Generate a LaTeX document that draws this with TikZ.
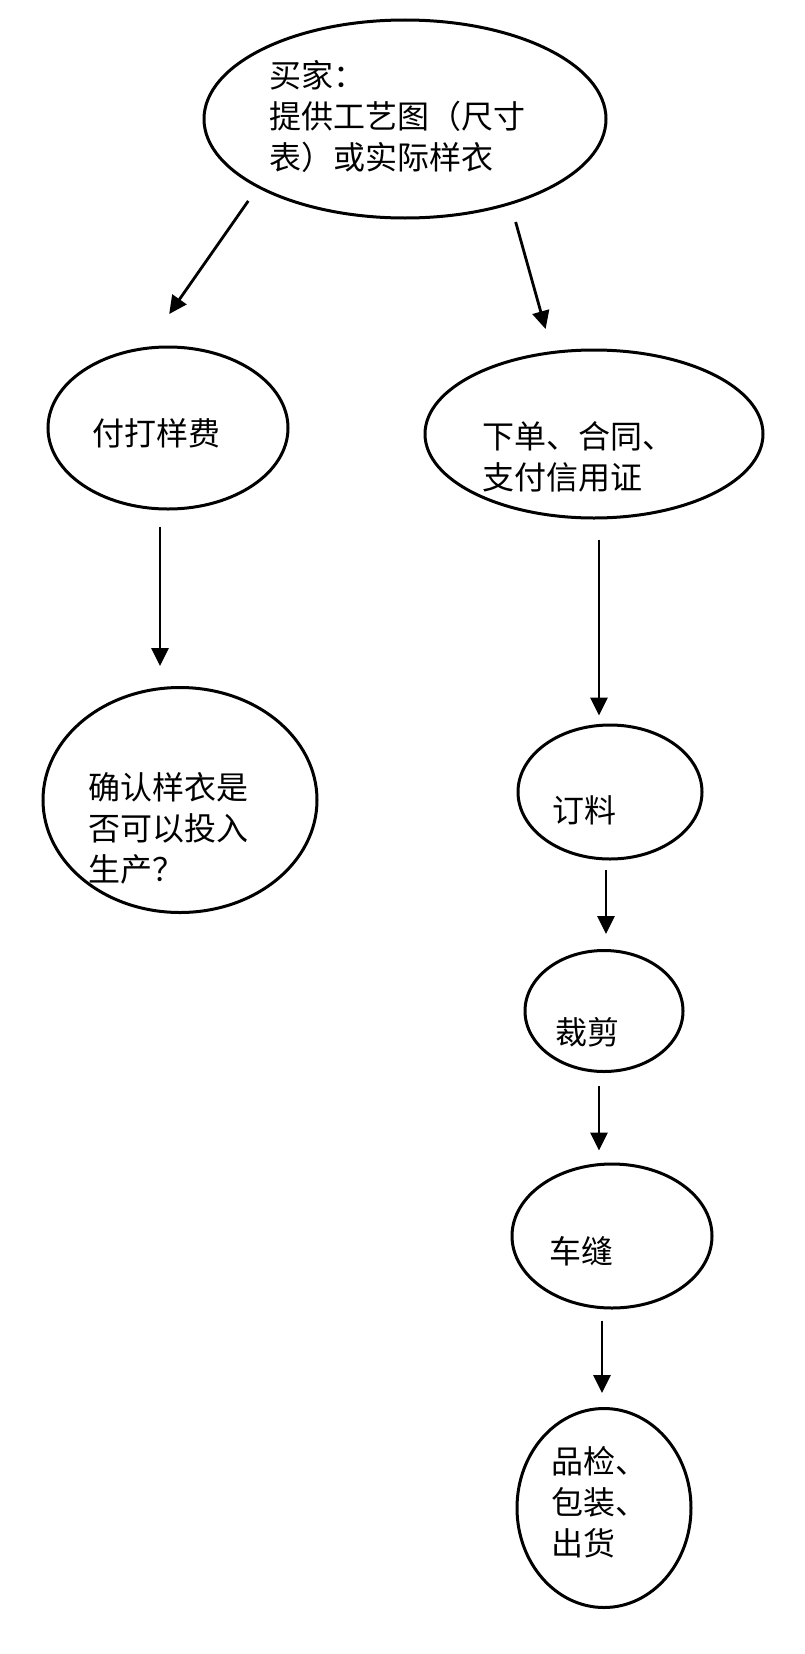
\documentclass[tikz,border=0pt]{standalone}
\usepackage{fontspec}
\setmainfont{Noto Sans CJK SC}
\usetikzlibrary{arrows.meta,shapes.geometric}

\begin{document}
\begin{tikzpicture}[
    x=1pt, y=-1pt,
    >={Triangle[length=18pt,width=17pt]},
    oval/.style={
      draw,
      ellipse,
      line width=3pt,
      inner sep=0pt
    },
    txt/.style={
      font=\fontsize{32}{41}\selectfont,
      align=left,
      inner sep=0pt
    },
    every edge/.style={draw,->,line width=2.8pt}
  ]
  \useasboundingbox (0,0) rectangle (805,1654);
  \node[oval, minimum width=402pt, minimum height=198pt,
        label={[txt,xshift=-8pt,yshift=3pt]center:{买家：\\提供工艺图（尺寸\\表）或实际样衣}}] (buyer) at (405,119) {};
  % sample side
  \node[oval, minimum width=240pt, minimum height=162pt,
        label={[txt,xshift=-12pt,yshift=-5pt]center:付打样费}] (fee) at (168,428) {};
  \node[oval, minimum width=274pt, minimum height=225pt,
        label={[txt,xshift=-12pt,yshift=-28pt]center:{确认样衣是\\否可以投入\\生产？}}] (confirm) at (180,800) {};
  % order side
  \node[oval, minimum width=338pt, minimum height=168pt,
        label={[txt,xshift=-16pt,yshift=-23pt]center:{下单、合同、\\支付信用证}}] (order) at (594,434) {};
  \node[oval, minimum width=184pt, minimum height=134pt,
        label={[txt,xshift=-26pt,yshift=-18pt]center:订料}] (fabric) at (610,792) {};
  \node[oval, minimum width=158pt, minimum height=121pt,
        label={[txt,xshift=-17pt,yshift=-21pt]center:裁剪}] (cutting) at (604,1011) {};
  \node[oval, minimum width=200pt, minimum height=144pt,
        label={[txt,xshift=-31pt,yshift=-15pt]center:车缝}] (sewing) at (612,1236) {};
  \node[oval, minimum width=174pt, minimum height=199pt,
        label={[txt,xshift=-5pt,yshift=6pt]center:{品检、\\包装、\\出货}}] (ship) at (604,1508) {};
  \path (buyer.205) edge[shorten <=16pt, shorten >=40pt] (fee.105)
        (buyer.321) edge[shorten <=18pt, shorten >=23pt] (order.117);
  \path ([xshift=-8pt]fee.south) edge[shorten <=16pt, shorten >=20pt] ([xshift=-8pt]fee.south |- confirm.north);
  \path ([xshift=5pt]order.south) edge[shorten <=20pt, shorten >=8pt] ([xshift=5pt]order.south |- fabric.north)
        ([xshift=-4pt]fabric.south) edge[shorten <=9pt, shorten >=15pt] ([xshift=-4pt]fabric.south |- cutting.north)
        ([xshift=-5pt]cutting.south) edge[shorten <=13pt, shorten >=12pt] ([xshift=-5pt]cutting.south |- sewing.north)
        ([xshift=-10pt]sewing.south) edge[shorten <=11pt, shorten >=14pt] ([xshift=-10pt]sewing.south |- ship.north);
\end{tikzpicture}
\end{document}
